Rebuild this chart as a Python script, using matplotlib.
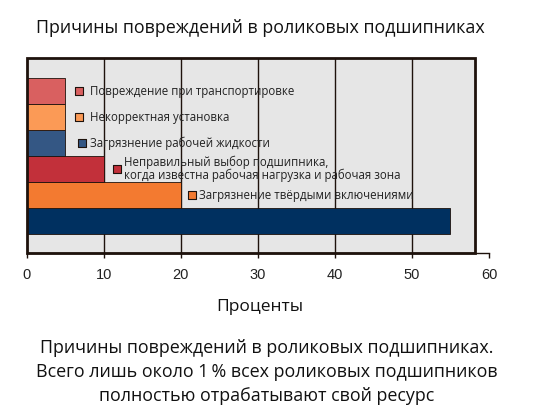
import matplotlib.pyplot as plt
from matplotlib.patches import Rectangle

# данные (снизу вверх)
causes = ["",
          "Загрязнение твёрдыми включениями",
          "Неправильный выбор подшипника,\nкогда известна рабочая нагрузка и рабочая зона",
          "Загрязнение рабочей жидкости",
          "Некорректная установка",
          "Повреждение при транспортировке"]
percents = [55, 20, 10, 5, 5, 5]
colors = ["#003060", "#f37a30", "#c2303a", "#345784", "#fb9a56", "#d96060"]
# положение подписей (x квадрата, x текста)
label_sq = [None, 21.5, 11.7, 7.2, 6.8, 6.8]
label_tx = [None, 22.4, 12.6, 8.2, 8.2, 8.2]

plt.rcParams['font.family'] = ['Open Sans', 'DejaVu Sans']
dark = "#1e120c"

fig = plt.figure(figsize=(5.38, 4.20), dpi=100)
ax = fig.add_axes([0.0496, 0.3976, 0.8593, 0.4643])

y0, y1 = -1.23, 6.27
ax.set_xlim(0, 60)
ax.set_ylim(y0, y1)

# серый фон рамки
ax.add_patch(Rectangle((0, y0), 58.2, y1 - y0, facecolor="#e6e6e6",
                       edgecolor="none", zorder=0, clip_on=False))
ax.vlines([10, 20, 30, 40, 50], y0, y1, colors=dark, lw=1, zorder=1)

ys = list(range(len(percents)))
ax.barh(ys, percents, height=1.0, color=colors, edgecolor=dark, lw=0.6, zorder=2)

ax.add_patch(Rectangle((0, y0), 58.2, y1 - y0, facecolor="none",
                       edgecolor=dark, lw=2, zorder=4, clip_on=False))

for i in ys:
    if label_sq[i] is None:
        continue
    ax.scatter(label_sq[i], i, marker="s", s=30, color=colors[i],
               edgecolor=dark, lw=0.8, zorder=5)
    ax.text(label_tx[i], i, causes[i], fontsize=8.3, va="center", ha="left",
            color="#222222", linespacing=0.95, zorder=5)

for s in ["top", "right", "left"]:
    ax.spines[s].set_visible(False)
ax.spines["bottom"].set_color(dark)
ax.spines["bottom"].set_linewidth(1)
ax.set_yticks([])
ax.set_xticks([0, 10, 20, 30, 40, 50, 60])
ax.tick_params(axis="x", length=3.5, width=1, color=dark, pad=7,
               labelsize=10.5, labelcolor="#222222")
for lab in ax.get_xticklabels():
    lab.set_fontfamily("Liberation Sans")

fig.text(260 / 538, 1 - 28 / 420, "Причины повреждений в роликовых подшипниках",
         ha="center", va="center", fontsize=12.9, color="#111111")
fig.text(260 / 538, 1 - 307 / 420, "Проценты", ha="center", va="center",
         fontsize=12.5, color="#111111")
fig.text(267 / 538, 1 - 372 / 420,
         "Причины повреждений в роликовых подшипниках.\n"
         "Всего лишь около 1\u2009% всех роликовых подшипников\n"
         "полностью отрабатывают свой ресурс",
         ha="center", va="center", multialignment="center",
         fontsize=12.9, color="#111111", linespacing=1.45)

fig.savefig("out.png", dpi=100)
